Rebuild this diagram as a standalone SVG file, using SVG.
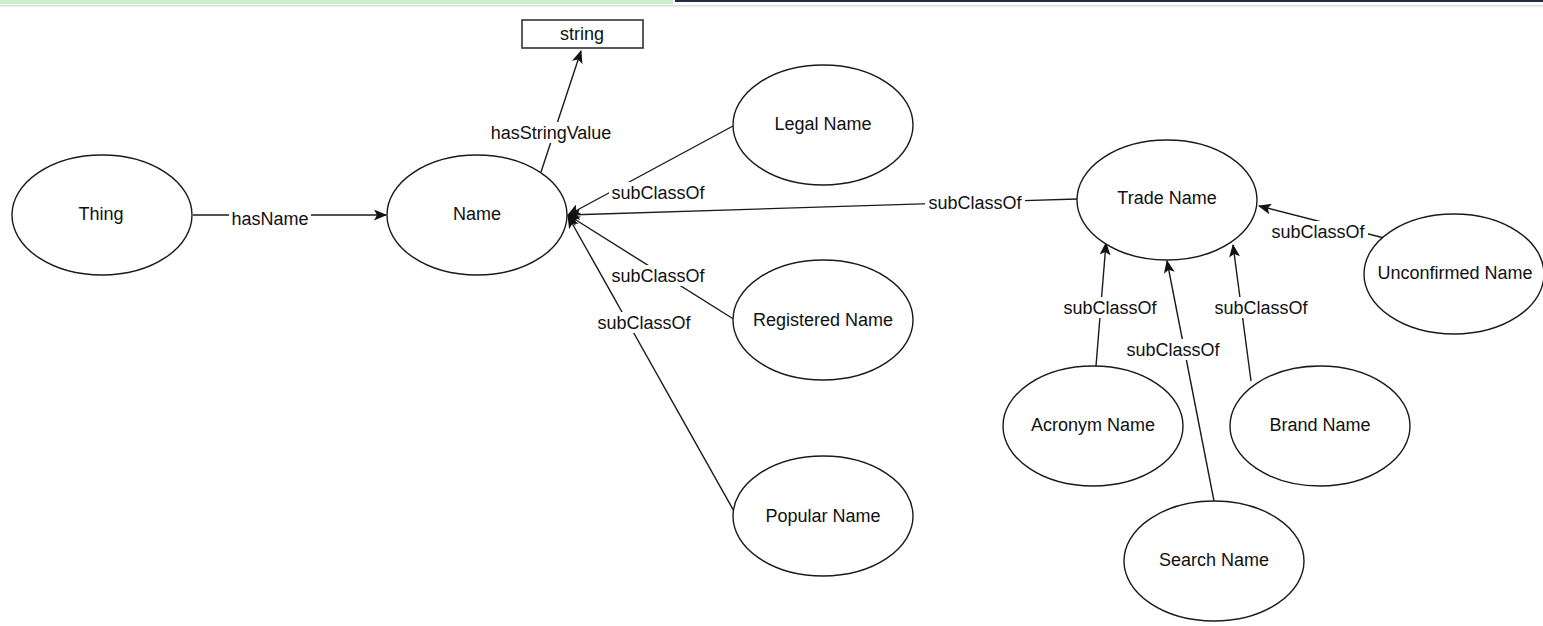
<svg xmlns="http://www.w3.org/2000/svg" width="1543" height="626" viewBox="0 0 1543 626">
<style>
.n ellipse{fill:#fff;stroke:#1a1a1a;stroke-width:1.4}
.t{font-family:"Liberation Sans",Arial,sans-serif;font-size:18px;fill:#111;text-anchor:middle;dominant-baseline:central}
.e line{stroke:#1a1a1a;stroke-width:1.4;marker-end:url(#arr)}
.lb{fill:#fff}
</style>
<defs>
<marker id="arr" viewBox="0 0 13 11" refX="12" refY="5.5" markerWidth="13" markerHeight="11" markerUnits="userSpaceOnUse" orient="auto">
<path d="M0,0 L13,5.5 L0,11 L3,5.5 z" fill="#111"/>
</marker>
</defs>
<rect x="0" y="0" width="1543" height="626" fill="#fff"/>
<g id="topbar">
<rect x="0" y="0" width="673" height="4" fill="#c9efc9"/>
<rect x="675" y="0" width="868" height="2" fill="#232a44"/>
<rect x="0" y="5" width="1543" height="1.5" fill="#dcdcdc"/>
</g>
<g id="edges" class="e">
<line x1="193" y1="215" x2="386" y2="215"/>
<line x1="541" y1="172" x2="581" y2="51"/>
<line x1="733" y1="126" x2="568" y2="215"/>
<line x1="1077" y1="199" x2="568" y2="215"/>
<line x1="735" y1="320" x2="568" y2="215"/>
<line x1="735" y1="513" x2="568" y2="216"/>
<line x1="1096" y1="366" x2="1106" y2="243"/>
<line x1="1214" y1="501" x2="1167" y2="261"/>
<line x1="1251" y1="381" x2="1233" y2="245"/>
<line x1="1388" y1="239" x2="1259" y2="206"/>
</g>
<g id="edge-labels">
<rect class="lb" x="229" y="208" width="82" height="21"/><text class="t" x="270" y="219">hasName</text>
<rect class="lb" x="487" y="122" width="128" height="21"/><text class="t" x="551" y="133">hasStringValue</text>
<rect class="lb" x="609" y="182" width="99" height="21"/><text class="t" x="658" y="193">subClassOf</text>
<rect class="lb" x="925" y="192" width="100" height="21"/><text class="t" x="975" y="203">subClassOf</text>
<rect class="lb" x="609" y="265" width="99" height="21"/><text class="t" x="658" y="276">subClassOf</text>
<rect class="lb" x="595" y="312" width="99" height="21"/><text class="t" x="644" y="323">subClassOf</text>
<rect class="lb" x="1060" y="297" width="99" height="21"/><text class="t" x="1110" y="308">subClassOf</text>
<rect class="lb" x="1124" y="339" width="99" height="21"/><text class="t" x="1173" y="350">subClassOf</text>
<rect class="lb" x="1212" y="297" width="99" height="21"/><text class="t" x="1261" y="308">subClassOf</text>
<rect class="lb" x="1269" y="221" width="99" height="21"/><text class="t" x="1318" y="232">subClassOf</text>
</g>
<g id="string" class="n"><rect x="522" y="20" width="121" height="28" fill="#fff" stroke="#333" stroke-width="1.6"/><text class="t" x="582" y="34">string</text></g>
<g id="thing" class="n"><ellipse cx="102" cy="215" rx="90" ry="60"/><text class="t" x="101" y="214">Thing</text></g>
<g id="name" class="n"><ellipse cx="477" cy="215" rx="90" ry="60"/><text class="t" x="477" y="214">Name</text></g>
<g id="legal" class="n"><ellipse cx="823" cy="125" rx="90" ry="60"/><text class="t" x="823" y="124">Legal Name</text></g>
<g id="registered" class="n"><ellipse cx="823" cy="320" rx="90" ry="60"/><text class="t" x="823" y="320">Registered Name</text></g>
<g id="popular" class="n"><ellipse cx="823" cy="516" rx="90" ry="60"/><text class="t" x="823" y="516">Popular Name</text></g>
<g id="trade" class="n"><ellipse cx="1167" cy="200" rx="90" ry="60"/><text class="t" x="1167" y="198">Trade Name</text></g>
<g id="unconfirmed" class="n"><ellipse cx="1454" cy="274" rx="90" ry="60"/><text class="t" x="1455" y="273">Unconfirmed Name</text></g>
<g id="acronym" class="n"><ellipse cx="1093" cy="426" rx="90" ry="60"/><text class="t" x="1093" y="425">Acronym Name</text></g>
<g id="brand" class="n"><ellipse cx="1320" cy="426" rx="90" ry="60"/><text class="t" x="1320" y="425">Brand Name</text></g>
<g id="search" class="n"><ellipse cx="1214" cy="561" rx="90" ry="60"/><text class="t" x="1214" y="560">Search Name</text></g>
</svg>
